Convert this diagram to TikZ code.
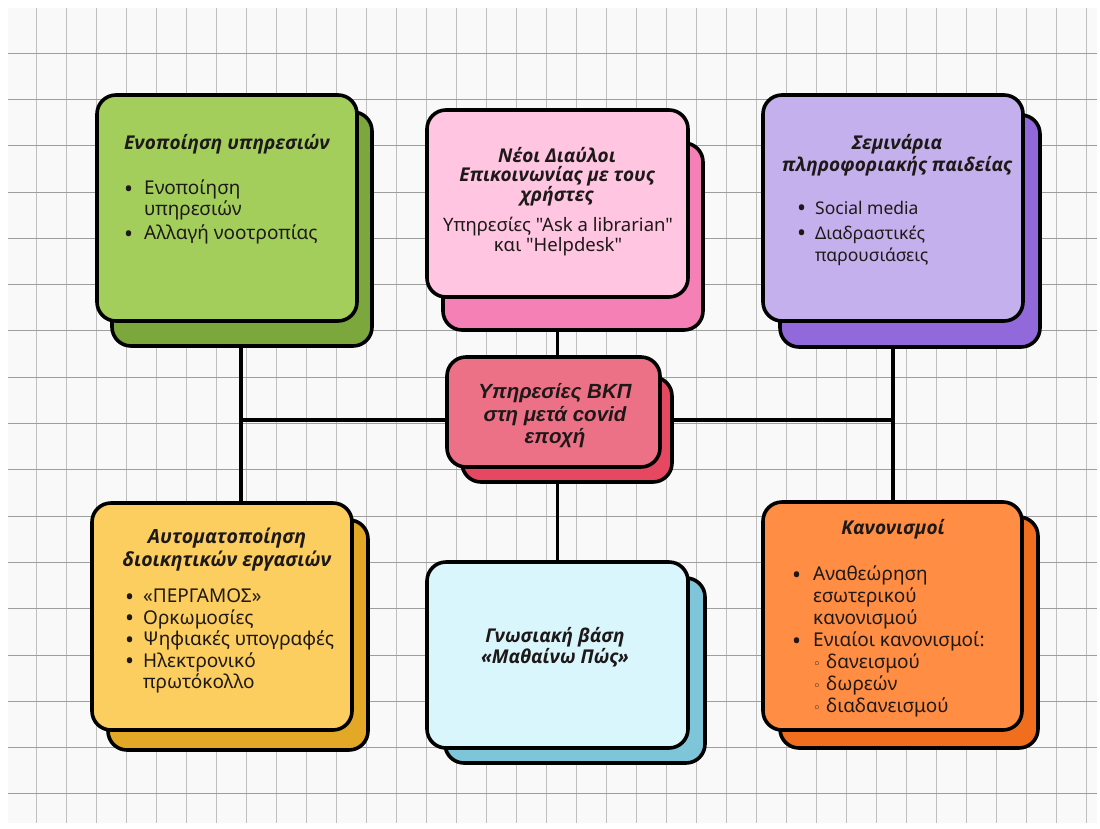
\documentclass[tikz,border=0pt]{standalone}
\usepackage{fontspec}
\setmainfont{Noto Sans}
\newfontfamily\rawfont{Noto Sans}[Ligatures=TeXOff]
\newfontfamily\ttlfont{Open Sans}
\newfontfamily\ctrfont{Liberation Sans}
\newfontfamily\symfont{DejaVu Sans}
\definecolor{paper}{RGB}{249,249,249}
\definecolor{gF}{RGB}{163,206,92}
\definecolor{gB}{RGB}{124,167,60}
\definecolor{kF}{RGB}{255,197,225}
\definecolor{kB}{RGB}{245,128,182}
\definecolor{pF}{RGB}{195,176,236}
\definecolor{pB}{RGB}{145,105,218}
\definecolor{cF}{RGB}{236,112,134}
\definecolor{cB}{RGB}{230,72,98}
\definecolor{yF}{RGB}{252,205,95}
\definecolor{yB}{RGB}{226,168,38}
\definecolor{bF}{RGB}{218,246,253}
\definecolor{bB}{RGB}{126,197,218}
\definecolor{oF}{RGB}{255,141,67}
\definecolor{oB}{RGB}{241,110,30}
\definecolor{ink}{RGB}{30,25,25}
\newlength\bw
\newcommand\bdot{\smash{\raisebox{-2.2pt}{\fontsize{24}{0}\selectfont •}}}
\newcommand\itm[1]{\makebox[\bw][l]{\bdot}#1}
\newcommand\cnt[1]{\hspace*{\bw}#1}
\newcommand\sub[1]{\hspace*{\bw}\makebox[13pt][l]{\smash{\symfont\fontsize{13}{13}\selectfont ◦}}#1}
\begin{document}
\begin{tikzpicture}[x=1pt,y=-1pt,
  card/.style={draw=black,line width=3.6pt,rounded corners=19pt,anchor=north west,inner sep=0pt,outer sep=0pt},
  link/.style={draw=black,line width=3.4pt},
  ttl/.style={text=ink,align=center,inner sep=0pt,font=\fontsize{19}{22}\selectfont\ttlfont\bfseries\itshape},
  bdy/.style={text=ink,align=center,inner sep=0pt},
  lst/.style={text=ink,align=left,inner sep=0pt,anchor=north west,font=\fontsize{19}{21.5}\selectfont},
  hl/.style={draw=black!38,line width=0.8pt},
  vl/.style={draw=black!25,line width=0.6pt}]
\useasboundingbox (0,0) rectangle (1100,828);
\fill[white] (0,0) rectangle (1100,828);
\fill[paper] (8,8) rectangle (1097,823);
\foreach \x in {36,66,...,1086} \draw[vl] (\x,8) -- (\x,823);
\foreach \y in {53,99.3,...,823} \draw[hl] (8,\y) -- (1097,\y);

% back cards
\node[card,fill=gB,minimum width=260pt,minimum height=234pt] (gBk) at (112,112) {};
\node[card,fill=kB,minimum width=260pt,minimum height=187pt] (kBk) at (443,143) {};
\node[card,fill=pB,minimum width=260pt,minimum height=232pt] (pBk) at (780,115) {};
\node[card,fill=cB,minimum width=210pt,minimum height=105pt] (cBk) at (462,377) {};
\node[card,fill=yB,minimum width=260pt,minimum height=230pt] (yBk) at (108,520) {};
\node[card,fill=bB,minimum width=260pt,minimum height=185pt] (bBk) at (445,578) {};
\node[card,fill=oB,minimum width=258pt,minimum height=231pt] (oBk) at (780,517) {};
% front cards
\node[card,fill=gF,minimum width=260pt,minimum height=226pt] (gFr) at (97,95) {};
\node[card,fill=kF,minimum width=261pt,minimum height=187pt] (kFr) at (427,110) {};
\node[card,fill=pF,minimum width=260pt,minimum height=226pt] (pFr) at (763,95) {};
\node[card,fill=cF,minimum width=213pt,minimum height=110pt] (cFr) at (447,357) {};
\node[card,fill=yF,minimum width=260pt,minimum height=227pt] (yFr) at (92,503) {};
\node[card,fill=bF,minimum width=261pt,minimum height=186pt] (bFr) at (427,562) {};
\node[card,fill=oF,minimum width=259pt,minimum height=228pt] (oFr) at (763,502) {};

% connectors
\coordinate (jL) at (241,420);
\coordinate (jR) at (893,420);
\draw[link] (jL |- gBk.south) -- (jL) -- (jL |- yFr.north);
\draw[link] (jL) -- (jL -| cFr.west);
\draw[link] (jR |- pBk.south) -- (jR) -- (jR |- oFr.north);
\draw[link] (jR) -- (jR -| cBk.east);
\draw[link] (kFr.south |- kBk.south) -- (kFr.south |- cFr.north);
\draw[link] (bFr.north |- cBk.south) -- (bFr.north);

% texts
\node[ttl] (gT) at (227,144) {Ενοποίηση υπηρεσιών};
\setlength\bw{20pt}
\node[lst,font=\fontsize{19}{21}\selectfont] (gL) at (124,180) {\itm{Ενοποίηση}\\\cnt{υπηρεσιών}\\[3pt]\itm{Αλλαγή νοοτροπίας}};

\node[ttl,font=\fontsize{19}{18.5}\selectfont\ttlfont\bfseries\itshape] (kT) at (557,177) {Νέοι Διαύλοι\\Επικοινωνίας με τους\\χρήστες};
\node[bdy,font=\fontsize{18.5}{17.5}\selectfont\rawfont] (kL) at (558,236.5) {Υπηρεσίες "Ask a librarian"\\και "Helpdesk"};

\node[ttl] (pT) at (897,155) {Σεμινάρια\\πληροφοριακής παιδείας};
\setlength\bw{18pt}
\node[lst,font=\fontsize{17.5}{22}\selectfont] (pL) at (797,201) {\itm{Social media}\\[3pt]\itm{Διαδραστικές}\\\cnt{παρουσιάσεις}};

\node[ttl,font=\fontsize{19.5}{23}\selectfont\ttlfont\bfseries\itshape] (yT) at (227,549.5) {Αυτοματοποίηση\\διοικητικών εργασιών};
\node[lst] (yL) at (125,589) {\itm{«ΠΕΡΓΑΜΟΣ»}\\\itm{Ορκωμοσίες}\\\itm{Ψηφιακές υπογραφές}\\\itm{Ηλεκτρονικό}\\\cnt{πρωτόκολλο}};

\node[ttl,font=\fontsize{19}{19}\selectfont\ttlfont\bfseries\itshape] (bT) at (555,647.5) {Γνωσιακή βάση\\«Μαθαίνω Πώς»};

\node[ttl] (oT) at (893,529) {Κανονισμοί};
\setlength\bw{21pt}
\node[lst,font=\fontsize{19}{22}\selectfont] (oL) at (792,566) {\itm{Αναθεώρηση}\\\cnt{εσωτερικού}\\\cnt{κανονισμού}\\\itm{Ενιαίοι κανονισμοί:}\\\sub{δανεισμού}\\\sub{δωρεών}\\\sub{διαδανεισμού}};

\node[ttl,font=\fontsize{20.5}{22.5}\selectfont\ctrfont\bfseries\itshape] (cT) at (555,416) {Υπηρεσίες ΒΚΠ\\στη μετά covid\\εποχή};
\end{tikzpicture}
\end{document}
